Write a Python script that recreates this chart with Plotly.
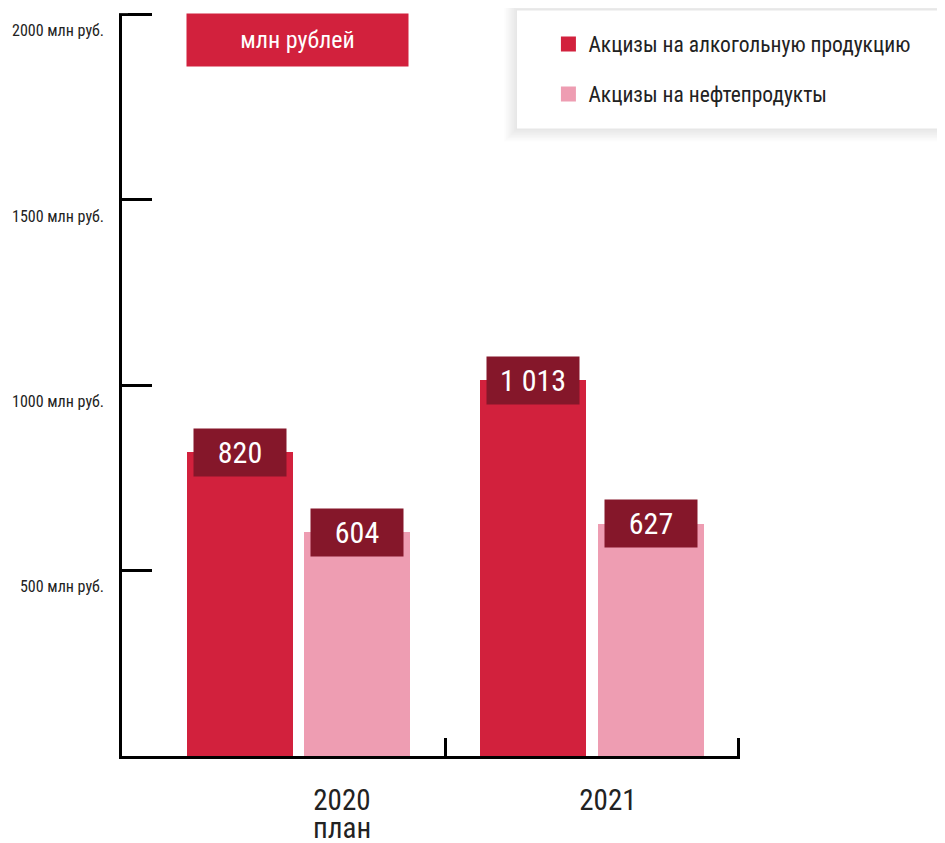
import plotly.graph_objects as go

years = ["2020", "2021"]
year_notes = ["план", ""]
alcohol = [820, 1013]
oil = [604, 627]
series_names = ["Акцизы на алкогольную продукцию", "Акцизы на нефтепродукты"]
y_ticks = [500, 1000, 1500, 2000]
y_tick_text = [f"{v} млн руб." for v in y_ticks]
unit_label = "млн рублей"

FONT = "Roboto Condensed, Liberation Sans Narrow, Roboto, sans-serif"
C_ALC = "#D2213D"
C_OIL = "#EE9DB2"
C_BOX = "#85172A"
TXT = "#222222"

BAR_W = 0.36
OFFS = [-0.38, 0.02]
LABEL_X = [0.148, 1.054]
Y_TOP = 2015

xs = list(range(len(years)))
fig = go.Figure()
for vals, name, col, off in [(alcohol, series_names[0], C_ALC, OFFS[0]),
                             (oil, series_names[1], C_OIL, OFFS[1])]:
    fig.add_trace(go.Bar(x=xs, y=vals, name=name, marker_color=col,
                         marker_line_width=0, width=BAR_W, offset=off,
                         legendgroup=name, showlegend=False))
    # legend entry with a larger square swatch
    fig.add_trace(go.Scatter(x=[None], y=[None], mode="markers", name=name,
                             marker=dict(symbol="square", size=15, color=col),
                             legendgroup=name, showlegend=True, hoverinfo="skip"))

annotations = []
for vals, off in [(alcohol, OFFS[0]), (oil, OFFS[1])]:
    for i, v in zip(xs, vals):
        annotations.append(dict(
            x=i + off + BAR_W / 2, y=v, xref="x", yref="y",
            text=f"{v:,}".replace(",", " "), showarrow=False,
            font=dict(family=FONT, size=30, color="white"),
            bgcolor=C_BOX, width=92, height=47, borderpad=0,
            xanchor="center", yanchor="middle"))

for lx, note in zip(LABEL_X, year_notes):
    if note:
        annotations.append(dict(
            x=lx, y=0, xref="x", yref="y", text=note, showarrow=False,
            font=dict(family=FONT, size=29, color=TXT),
            xanchor="center", yanchor="middle", yshift=-72))

# plot area in page pixels: x 122..740, y top..756 (page has an 8px body offset)
px_per_unit = 185 / 500
top_px = 15 - (Y_TOP - 2000) * px_per_unit
plot_h = 756 - top_px


def ypap(py):
    return (756 - py) / plot_h


annotations.append(dict(
    x=0.284, y=ypap(40), xref="paper", yref="paper", text=unit_label,
    showarrow=False, font=dict(family=FONT, size=24, color="white"),
    bgcolor=C_ALC, width=221, height=52, borderpad=0,
    xanchor="center", yanchor="middle"))

shapes = []
# hide the bit of axis line above the top tick
shapes.append(dict(type="rect", xref="paper", yref="y", x0=-0.01, x1=0.01,
                   y0=max(y_ticks) + 3.8, y1=Y_TOP, fillcolor="white",
                   line_width=0, layer="above"))
bx0, bx1, by0, by1 = 0.6392, 1.5, ypap(129), ypap(11)
for k in range(8, 0, -1):
    dx = k * 1.6 / 618
    dy = k * 1.6 / plot_h
    shapes.append(dict(type="rect", xref="paper", yref="paper",
                       x0=bx0 - dx, x1=bx1, y0=by0 - dy, y1=by1 + dy,
                       fillcolor="rgba(0,0,0,0.012)", line_width=0, layer="above"))
shapes.append(dict(type="rect", xref="paper", yref="paper",
                   x0=bx0, x1=bx1, y0=by0, y1=by1,
                   fillcolor="white", line_width=0, layer="above"))

fig.update_layout(
    width=945, height=843,
    margin=dict(l=114, r=213, t=top_px - 8, b=95),
    paper_bgcolor="white", plot_bgcolor="white",
    bargap=0, barmode="group",
    showlegend=True,
    legend=dict(x=0.69, y=ypap(24), xanchor="left", yanchor="top",
                bgcolor="rgba(0,0,0,0)", tracegroupgap=19,
                font=dict(family=FONT, size=21.5, color=TXT)),
    annotations=annotations, shapes=shapes,
    font=dict(family=FONT, color=TXT),
)
fig.update_yaxes(range=[0, Y_TOP], showgrid=False, zeroline=False,
                 automargin=False,
                 showline=True, linecolor="black", linewidth=2.5,
                 tickmode="array", tickvals=y_ticks, ticktext=y_tick_text,
                 ticks="inside", ticklen=30, tickwidth=2.5, tickcolor="black",
                 ticklabelshift=16, ticklabelstandoff=12,
                 ticklabeloverflow="allow",
                 tickfont=dict(family=FONT, size=16, color=TXT))
fig.update_xaxes(range=[-0.601, 1.504], showgrid=False, zeroline=False,
                 automargin=False,
                 showline=True, linecolor="black", linewidth=2.5,
                 tickmode="array", tickvals=LABEL_X, ticktext=years,
                 ticks="", ticklabelstandoff=16,
                 tickfont=dict(family=FONT, size=29, color=TXT),
                 minor=dict(tickmode="array", tickvals=[0.5, 1.5], ticks="inside",
                            ticklen=18, tickwidth=2.5, tickcolor="black"))

fig.write_html("out.html")
